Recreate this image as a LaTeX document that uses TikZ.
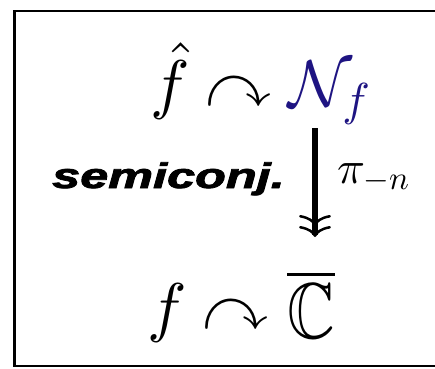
\documentclass[tikz,border=0pt]{standalone}
\usepackage{amssymb}
\usepackage[no-math]{fontspec}
\DeclareFontShape{OT1}{cmr}{m}{n}{<->cmr10}{}
\DeclareFontShape{OML}{cmm}{m}{it}{<->cmmi10}{}
\DeclareFontShape{OMS}{cmsy}{m}{n}{<->cmsy10}{}
\newfontfamily\semifont{Liberation Sans}[BoldItalicFeatures={FakeBold=2}]
\usetikzlibrary{arrows.meta}
\definecolor{navy}{RGB}{30,20,130}
\begin{document}
\begin{tikzpicture}[x=1pt,y=1pt,
  mrow/.style={font=\fontsize{66}{70}\selectfont, inner sep=0pt, anchor=base west},
  semistyle/.style={font=\semifont\bfseries\itshape\fontsize{35.5}{40}\selectfont, inner sep=0pt, anchor=base west},
  projarrow/.style={line width=5.5pt, -{Computer Modern Rightarrow[line width=2.5pt,length=11pt,width=32pt] Computer Modern Rightarrow[line width=2.5pt,length=11pt,width=32pt]}}]
\useasboundingbox (0,0) rectangle (435,368);
\draw[line width=2.5pt] (14.5,357) rectangle (470,2);
\node[mrow] (fhat) at (150,262) {$\hat f$};
\node[mrow] (act1) at (205,262) {$\curvearrowright$};
\node[mrow, text=navy] (N) at (288,262) {$\mathcal N_f$};
\node[mrow] (f) at (147,39) {$f$};
\node[mrow] (act2) at (202,39) {$\curvearrowright$};
\node[mrow] (C) at (287,39) {$\overline{\raisebox{-9pt}{\scalebox{1}[1.2]{$\mathbb C$}}}$};
\node[mrow] (pi) at (337,185) {$\scriptstyle \pi_{-n}$};
\node[semistyle] (semi) at (52,180) {\scalebox{1.42}[1]{semiconj.}};
\coordinate (atop) at (315,240);
\coordinate (abot) at (315,131);
\draw[projarrow] (atop) -- (abot);
\end{tikzpicture}
\end{document}
